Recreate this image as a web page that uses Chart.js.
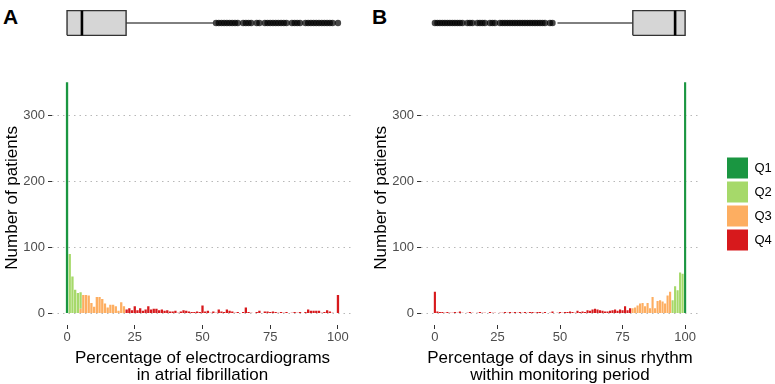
<!DOCTYPE html>
<html>
<head>
<meta charset="utf-8">
<script src="https://cdn.jsdelivr.net/npm/chart.js@4.4.0/dist/chart.umd.min.js"></script>
<style>
  html, body { margin: 0; padding: 0; background: #fff; overflow: hidden; }
  #wrap { position: relative; width: 775px; height: 384px; overflow: hidden; }
  canvas { position: absolute; }
  .tag { position: absolute; top: 5px; line-height: 1; font: bold 21px "Liberation Sans", Arial, sans-serif; color: #000; }
</style>
</head>
<body>
<div id="wrap">
  <div class="tag" style="left:3px">A</div>
  <div class="tag" style="left:372px">B</div>
  <canvas id="boxA" width="365" height="46" style="left:0;top:0"></canvas>
  <canvas id="histA" width="365" height="324" style="left:0;top:60px"></canvas>
  <canvas id="boxB" width="342" height="46" style="left:369px;top:0"></canvas>
  <canvas id="histB" width="342" height="324" style="left:369px;top:60px"></canvas>
  <canvas id="legend" width="120" height="200" style="left:724px;top:104px"></canvas>
</div>
<script>
const quartiles = ["Q1", "Q2", "Q3", "Q4"];
const colours = ["#1a9641", "#a6d96a", "#fdae61", "#d7191c"];
const xTicks = [0, 25, 50, 75, 100];
const yTicks = [0, 100, 200, 300];

// panel A - % of ECGs in AF, patients per 1% bin (first bin of each group given)
const ecgStart = [0, 1, 5, 22];
const ecgQ1 = [350];
const ecgQ2 = [90, 56, 36, 31, 25];
const ecgQ3 = [7, 28, 28, 27, 16, 10, 25, 25, 22, 15, 9, 13, 13, 11, 4, 17, 11];
const ecgQ4 = [
  6, 8, 5, 11, 5, 8, 4, 6, 11, 6,
  7, 7, 5, 6, 4, 5, 3, 3, 4, 1,
  3, 5, 4, 3, 2, 2, 3, 2, 12, 3,
  4, 1, 3, 1, 6, 3, 2, 6, 4, 3,
  1, 2, 0, 2, 9, 2, 1, 0, 2, 4,
  0, 3, 3, 2, 3, 2, 1, 2, 1, 2,
  0, 1, 2, 1, 2, 0, 2, 6, 4, 4,
  4, 4, 1, 2, 5, 3, 1, 0, 28
];
// box: lower whisker, q1, median, q3, upper whisker
const ecgBox = [0, 0, 5.5, 21.8, 54];

// panel B - % of days in sinus rhythm
const sinusStart = [100, 95, 79, 0];
const sinusQ1 = [350];
const sinusQ2 = [20, 41, 35, 62, 60];
const sinusQ3 = [8, 9, 12, 15, 16, 11, 16, 8, 25, 8, 19, 20, 18, 15, 27, 33];
const sinusQ4 = [
  33, 3, 2, 2, 1, 2, 1, 1, 2, 1,
  3, 1, 0, 1, 2, 1, 0, 1, 2, 1,
  1, 0, 2, 1, 1, 0, 1, 1, 2, 1,
  2, 1, 2, 1, 2, 1, 2, 1, 2, 2,
  1, 2, 2, 1, 2, 0, 1, 3, 0, 1,
  2, 1, 2, 2, 3, 2, 1, 4, 2, 3,
  2, 5, 4, 6, 7, 6, 5, 4, 3, 3,
  4, 5, 6, 4, 6, 5, 11, 5, 8
];
const sinusBox = [49, 79.1, 96, 100, 100];

Chart.defaults.font.family = '"Liberation Sans", Arial, sans-serif';
Chart.defaults.color = "#4d4d4d";

const xMin = -5.55, xMax = 105.55;

function toPoints(start, counts) {
  return counts.map((c, i) => ({ x: start + i, y: c }));
}

function histChart(id, groups, starts, xTitle) {
  // Q4 first so it sits at the bottom of a shared bin
  const datasets = [3, 2, 1, 0].map(i => ({
    label: quartiles[i],
    data: toPoints(starts[i], groups[i]),
    backgroundColor: colours[i],
    borderWidth: 0,
    barPercentage: 1,
    categoryPercentage: 0.85
  }));
  new Chart(document.getElementById(id), {
    type: "bar",
    data: { datasets },
    options: {
      responsive: false,
      animation: false,
      layout: { padding: { top: 6, right: 12, left: 0, bottom: 0 } },
      plugins: { legend: { display: false }, tooltip: { enabled: false } },
      scales: {
        x: {
          type: "linear", stacked: true, min: xMin, max: xMax, offset: false,
          afterBuildTicks: s => { s.ticks = xTicks.map(v => ({ value: v })); },
          afterFit: s => { s.height = 59; },
          grid: { offset: false, drawOnChartArea: false, tickLength: 4, tickColor: "#333", tickWidth: 1 },
          border: { display: false },
          ticks: { font: { size: 13 }, padding: 1, maxRotation: 0 },
          title: { display: true, text: xTitle, color: "#000", font: { size: 17, lineHeight: 1 }, padding: { top: 0, bottom: 0.5 } }
        },
        y: {
          stacked: true, min: -17.5, max: 367.5,
          afterBuildTicks: s => { s.ticks = yTicks.map(v => ({ value: v })); },
          afterFit: s => { s.width = 52; },
          grid: { color: "#b8b8b8", lineWidth: 1, tickColor: "#333", tickLength: 4, tickWidth: 1, tickBorderDash: [] },
          border: { display: false, dash: [1.5, 4] },
          ticks: { font: { size: 13 }, padding: 3 },
          title: { display: true, text: "Number of patients", color: "#000", font: { size: 17 }, padding: { top: 2, bottom: 0 } }
        }
      }
    }
  });
}

function boxChart(id, b, outliers) {
  const h = 0.65;
  const [lo, q1, med, q3, hi] = b;
  new Chart(document.getElementById(id), {
    type: "scatter",
    data: {
      datasets: [
        { data: [{ x: med, y: -h }, { x: med, y: h }], showLine: true, borderColor: "#000", borderWidth: 2.6, pointRadius: 0, order: 0 },
        { data: [{ x: q1, y: -h }, { x: q3, y: -h }, { x: q3, y: h }, { x: q1, y: h }, { x: q1, y: -h }],
          showLine: true, fill: "shape", backgroundColor: "#d6d6d6", borderColor: "#333", borderWidth: 1.4, pointRadius: 0, order: 1 },
        { data: [{ x: lo, y: 0 }, { x: q1, y: 0 }], showLine: true, borderColor: "#000", borderWidth: 1, pointRadius: 0, order: 2 },
        { data: [{ x: q3, y: 0 }, { x: hi, y: 0 }], showLine: true, borderColor: "#000", borderWidth: 1, pointRadius: 0, order: 2 },
        { data: outliers.map(x => ({ x, y: 0 })), pointRadius: 3.2, backgroundColor: "rgba(0,0,0,0.72)", borderWidth: 0, order: 3 }
      ]
    },
    options: {
      responsive: false,
      animation: false,
      layout: { padding: { left: 52, right: 12, top: 0, bottom: 0 } },
      plugins: { legend: { display: false }, tooltip: { enabled: false } },
      scales: {
        x: { display: false, min: xMin, max: xMax },
        y: { display: false, min: -1, max: 1 }
      }
    }
  });
}

const ecgGroups = [ecgQ1, ecgQ2, ecgQ3, ecgQ4];
const sinusGroups = [sinusQ1, sinusQ2, sinusQ3, sinusQ4];

// outliers: bins beyond the whiskers that hold patients
const ecgOut = toPoints(ecgStart[3], ecgQ4).filter(p => p.x > ecgBox[4] && p.y > 0).map(p => p.x);
const sinusOut = toPoints(sinusStart[3], sinusQ4).filter(p => p.x < sinusBox[0] && p.y > 0).map(p => p.x);

histChart("histA", ecgGroups, ecgStart, ["Percentage of electrocardiograms", "in atrial fibrillation"]);
histChart("histB", sinusGroups, sinusStart, ["Percentage of days in sinus rhythm", "within monitoring period"]);
boxChart("boxA", ecgBox, ecgOut);
boxChart("boxB", sinusBox, sinusOut);

new Chart(document.getElementById("legend"), {
  type: "bar",
  data: {
    labels: [],
    datasets: quartiles.map((q, i) => ({ label: q, data: [], backgroundColor: colours[i], borderWidth: 0 }))
  },
  options: {
    responsive: false,
    animation: false,
    scales: { x: { display: false }, y: { display: false } },
    plugins: {
      tooltip: { enabled: false },
      legend: {
        position: "left", align: "center",
        onClick: null,
        labels: { boxWidth: 21, boxHeight: 21, padding: 3, color: "#000", font: { size: 13 } }
      }
    }
  }
});
</script>
</body>
</html>
